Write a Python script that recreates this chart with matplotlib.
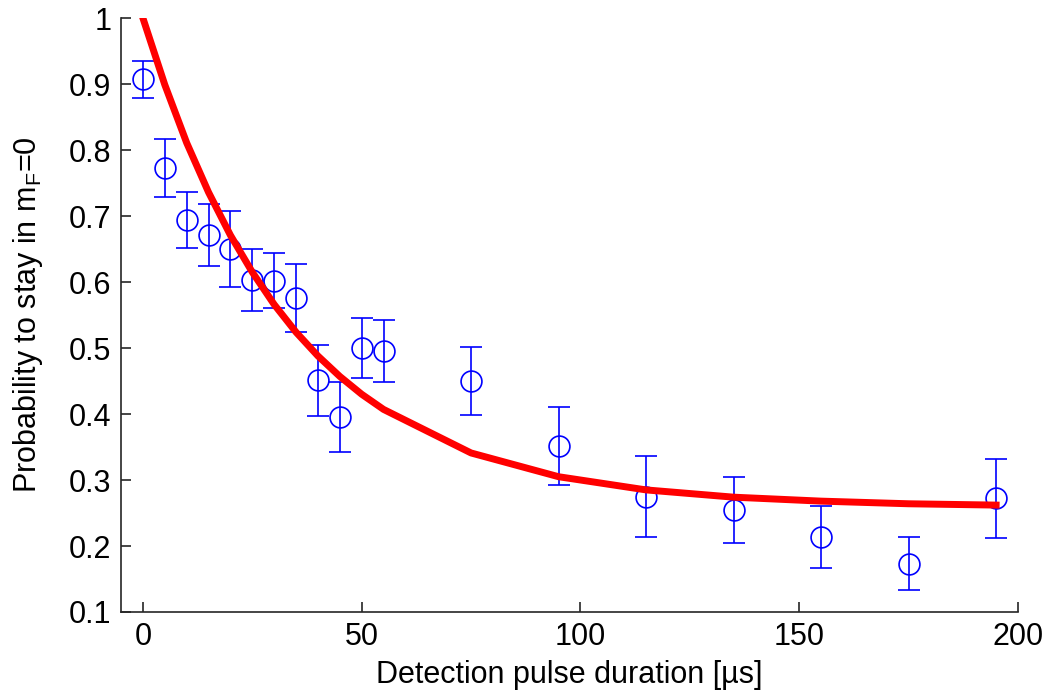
import numpy as np
import matplotlib.pyplot as plt

plt.rcParams['font.family'] = ['Liberation Sans', 'DejaVu Sans']
plt.rcParams['mathtext.fontset'] = 'custom'
plt.rcParams['mathtext.rm'] = 'Liberation Sans'
plt.rcParams['mathtext.it'] = 'Liberation Sans'

# measured data
t_us = [0, 5, 10, 15, 20, 25, 30, 35, 40, 45, 50, 55, 75, 95, 115, 135, 155, 175, 195]
prob = [0.907, 0.773, 0.694, 0.672, 0.650, 0.603, 0.602, 0.576, 0.451, 0.395,
        0.500, 0.495, 0.450, 0.352, 0.275, 0.254, 0.214, 0.173, 0.272]
prob_err = [0.028, 0.044, 0.042, 0.047, 0.058, 0.047, 0.042, 0.051, 0.054, 0.053,
            0.046, 0.047, 0.052, 0.059, 0.061, 0.050, 0.047, 0.040, 0.060]

# fitted curve at the same durations
fit = [1.0, 0.899, 0.811, 0.736, 0.671, 0.615, 0.566, 0.524, 0.488, 0.457,
       0.430, 0.407, 0.341, 0.305, 0.285, 0.274, 0.268, 0.264, 0.262]

fig = plt.figure(figsize=(10.47, 6.96), dpi=100)
ax = fig.add_axes([0.1156, 0.1207, 0.8567, 0.8533])

ax.errorbar(t_us, prob, yerr=prob_err, fmt='o', color='blue', mfc='none',
            markersize=15, mew=1.2, elinewidth=1.2, capsize=8, capthick=1.2, zorder=2)
ax.plot(t_us, fit, color='red', linewidth=5, zorder=3)

ax.set_xlim(-5, 200)
ax.set_ylim(0.1, 1)
ax.set_xticks([0, 50, 100, 150, 200])
ax.set_yticks(np.arange(0.1, 1.01, 0.1))
ax.set_yticklabels(['0.1', '0.2', '0.3', '0.4', '0.5', '0.6', '0.7', '0.8', '0.9', '1'])

for s in ['top', 'right']:
    ax.spines[s].set_visible(False)
for s in ['left', 'bottom']:
    ax.spines[s].set_color('#262626')
    ax.spines[s].set_linewidth(1.2)
ax.tick_params(direction='in', length=7, width=1.2, labelsize=22, pad=7, colors='#262626', labelcolor='black')

ax.set_xlabel('Detection pulse duration [µs]', fontsize=22, labelpad=6)
ax.set_ylabel('Probability to stay in m$_\\mathrm{F}$=0', fontsize=22, labelpad=17)

fig.savefig('out.png', dpi=100)
